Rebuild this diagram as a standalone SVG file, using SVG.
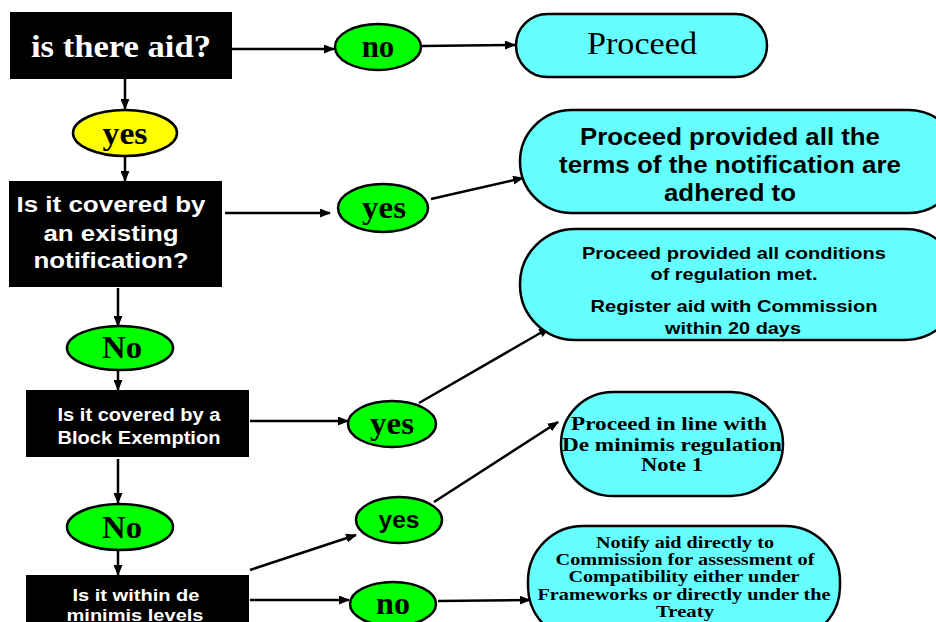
<svg xmlns="http://www.w3.org/2000/svg" width="936" height="622" viewBox="0 0 936 622">
<defs>
<marker id="ah" markerWidth="11" markerHeight="9" refX="10" refY="4.5" orient="auto" markerUnits="userSpaceOnUse">
<path d="M0,0 L11,4.5 L0,9 Z" fill="#000"/>
</marker>
<style>
.box{fill:#000;}
.wt{fill:#fff;font-family:"Liberation Sans",Arial,sans-serif;font-weight:bold;text-anchor:middle;}
.wts{fill:#fff;font-family:"Liberation Serif","Times New Roman",serif;font-weight:bold;text-anchor:middle;}
.ell{fill:#00ff00;stroke:#000;stroke-width:2.5;}
.yel{fill:#ffff00;stroke:#000;stroke-width:2.5;}
.pill{fill:#66ffff;stroke:#000;stroke-width:2.5;}
.serb{font-family:"Liberation Serif","Times New Roman",serif;font-weight:bold;text-anchor:middle;fill:#000;}
.ser{font-family:"Liberation Serif","Times New Roman",serif;text-anchor:middle;fill:#000;}
.sans{font-family:"Liberation Sans",Arial,sans-serif;font-weight:bold;text-anchor:middle;fill:#000;}
.c{stroke:#000;stroke-width:2.5;fill:none;marker-end:url(#ah);}
</style>
</defs>
<rect width="936" height="622" fill="#fff"/>
<g id="connectors">
<line class="c" x1="232" y1="49" x2="334" y2="49"/>
<line class="c" x1="421" y1="46" x2="515" y2="45"/>
<line class="c" x1="125" y1="79" x2="125" y2="109"/>
<line class="c" x1="125" y1="156" x2="125" y2="181"/>
<line class="c" x1="225" y1="213" x2="330" y2="213"/>
<line class="c" x1="431" y1="199" x2="523" y2="178"/>
<line class="c" x1="118" y1="288" x2="118" y2="326"/>
<line class="c" x1="118" y1="371" x2="118" y2="390"/>
<line class="c" x1="250" y1="421" x2="348" y2="421"/>
<line class="c" x1="419" y1="403" x2="549" y2="328"/>
<line class="c" x1="118" y1="459" x2="118" y2="503"/>
<line class="c" x1="118" y1="550" x2="118" y2="575"/>
<line class="c" x1="250" y1="570" x2="356" y2="535"/>
<line class="c" x1="434" y1="502" x2="558" y2="422"/>
<line class="c" x1="250" y1="600" x2="349" y2="600"/>
<line class="c" x1="438" y1="601" x2="530" y2="600"/>
</g>
<g id="q1">
<rect class="box" x="10" y="12" width="222" height="67"/>
<text class="wts" x="121" y="57" font-size="31" textLength="180" lengthAdjust="spacingAndGlyphs">is there aid?</text>
</g>
<g id="no1">
<ellipse class="ell" cx="378" cy="47" rx="43" ry="23"/>
<text class="serb" x="378" y="57" font-size="31">no</text>
</g>
<g id="proceed1">
<rect class="pill" x="516" y="14" width="251" height="63" rx="31.5"/>
<text class="ser" x="642" y="54" font-size="32" textLength="110" lengthAdjust="spacingAndGlyphs">Proceed</text>
</g>
<g id="yes1">
<ellipse class="yel" cx="125" cy="133" rx="52" ry="23"/>
<text class="serb" x="125" y="144" font-size="31" textLength="45" lengthAdjust="spacingAndGlyphs">yes</text>
</g>
<g id="q2">
<rect class="box" x="9" y="181" width="213" height="106"/>
<text class="wt" font-size="22"><tspan x="111" y="212" textLength="189" lengthAdjust="spacingAndGlyphs">Is it covered by</tspan><tspan x="111" y="241" textLength="135" lengthAdjust="spacingAndGlyphs">an existing</tspan><tspan x="111" y="268" textLength="155" lengthAdjust="spacingAndGlyphs">notification?</tspan></text>
</g>
<g id="yes2">
<ellipse class="ell" cx="383" cy="208" rx="45" ry="24"/>
<text class="serb" x="384" y="218" font-size="31" textLength="44" lengthAdjust="spacingAndGlyphs">yes</text>
</g>
<g id="proceed2">
<rect class="pill" x="520" y="110" width="440" height="103" rx="51.5"/>
<text class="sans" font-size="23"><tspan x="730" y="145" textLength="300" lengthAdjust="spacingAndGlyphs">Proceed provided all the</tspan><tspan x="730" y="173" textLength="342" lengthAdjust="spacingAndGlyphs">terms of the notification are</tspan><tspan x="730" y="201" textLength="132" lengthAdjust="spacingAndGlyphs">adhered to</tspan></text>
</g>
<g id="no2">
<ellipse class="ell" cx="120" cy="348" rx="53" ry="22"/>
<text class="serb" x="122" y="358" font-size="31" textLength="40" lengthAdjust="spacingAndGlyphs">No</text>
</g>
<g id="q3">
<rect class="box" x="26" y="390" width="223" height="67"/>
<text class="wt" font-size="18"><tspan x="139" y="421" textLength="163" lengthAdjust="spacingAndGlyphs">Is it covered by a</tspan><tspan x="139" y="444" textLength="163" lengthAdjust="spacingAndGlyphs">Block Exemption</tspan></text>
</g>
<g id="yes3">
<ellipse class="ell" cx="392" cy="424" rx="44" ry="23"/>
<text class="serb" x="392" y="434" font-size="31" textLength="44" lengthAdjust="spacingAndGlyphs">yes</text>
</g>
<g id="proceed3">
<rect class="pill" x="520" y="229" width="440" height="111" rx="55"/>
<text class="sans" font-size="17"><tspan x="734" y="259" textLength="304" lengthAdjust="spacingAndGlyphs">Proceed provided all conditions</tspan><tspan x="734" y="280" textLength="167" lengthAdjust="spacingAndGlyphs">of regulation met.</tspan><tspan x="734" y="312" textLength="287" lengthAdjust="spacingAndGlyphs">Register aid with Commission</tspan><tspan x="733" y="334" textLength="136" lengthAdjust="spacingAndGlyphs">within 20 days</tspan></text>
</g>
<g id="no3">
<ellipse class="ell" cx="120" cy="527" rx="53" ry="23"/>
<text class="serb" x="122" y="538" font-size="31" textLength="40" lengthAdjust="spacingAndGlyphs">No</text>
</g>
<g id="q4">
<rect class="box" x="26" y="575" width="223" height="60"/>
<text class="wt" font-size="17"><tspan x="136" y="601" textLength="127" lengthAdjust="spacingAndGlyphs">Is it within de</tspan><tspan x="135" y="621" textLength="137" lengthAdjust="spacingAndGlyphs">minimis levels</tspan></text>
</g>
<g id="yes4">
<ellipse class="ell" cx="399" cy="520" rx="43" ry="23"/>
<text class="sans" x="399" y="528" font-size="24" textLength="41" lengthAdjust="spacingAndGlyphs">yes</text>
</g>
<g id="proceed4">
<rect class="pill" x="561" y="392" width="222" height="104" rx="52"/>
<text class="serb" font-size="19"><tspan x="669" y="430" textLength="196" lengthAdjust="spacingAndGlyphs">Proceed in line with</tspan><tspan x="672" y="451" textLength="220" lengthAdjust="spacingAndGlyphs">De minimis regulation</tspan><tspan x="672" y="471" textLength="62" lengthAdjust="spacingAndGlyphs">Note 1</tspan></text>
</g>
<g id="no4">
<ellipse class="ell" cx="393" cy="604" rx="43" ry="22"/>
<text class="serb" x="393" y="614" font-size="31" textLength="34" lengthAdjust="spacingAndGlyphs">no</text>
</g>
<g id="notify">
<rect class="pill" x="528" y="526" width="312" height="115" rx="55"/>
<text class="serb" font-size="16.5"><tspan x="685" y="548" textLength="178" lengthAdjust="spacingAndGlyphs">Notify aid directly to</tspan><tspan x="685" y="565" textLength="259" lengthAdjust="spacingAndGlyphs">Commission for assessment of</tspan><tspan x="684" y="582" textLength="231" lengthAdjust="spacingAndGlyphs">Compatibility either under</tspan><tspan x="684" y="600" textLength="293" lengthAdjust="spacingAndGlyphs">Frameworks or directly under the</tspan><tspan x="685" y="617" textLength="58" lengthAdjust="spacingAndGlyphs">Treaty</tspan></text>
</g>
</svg>
